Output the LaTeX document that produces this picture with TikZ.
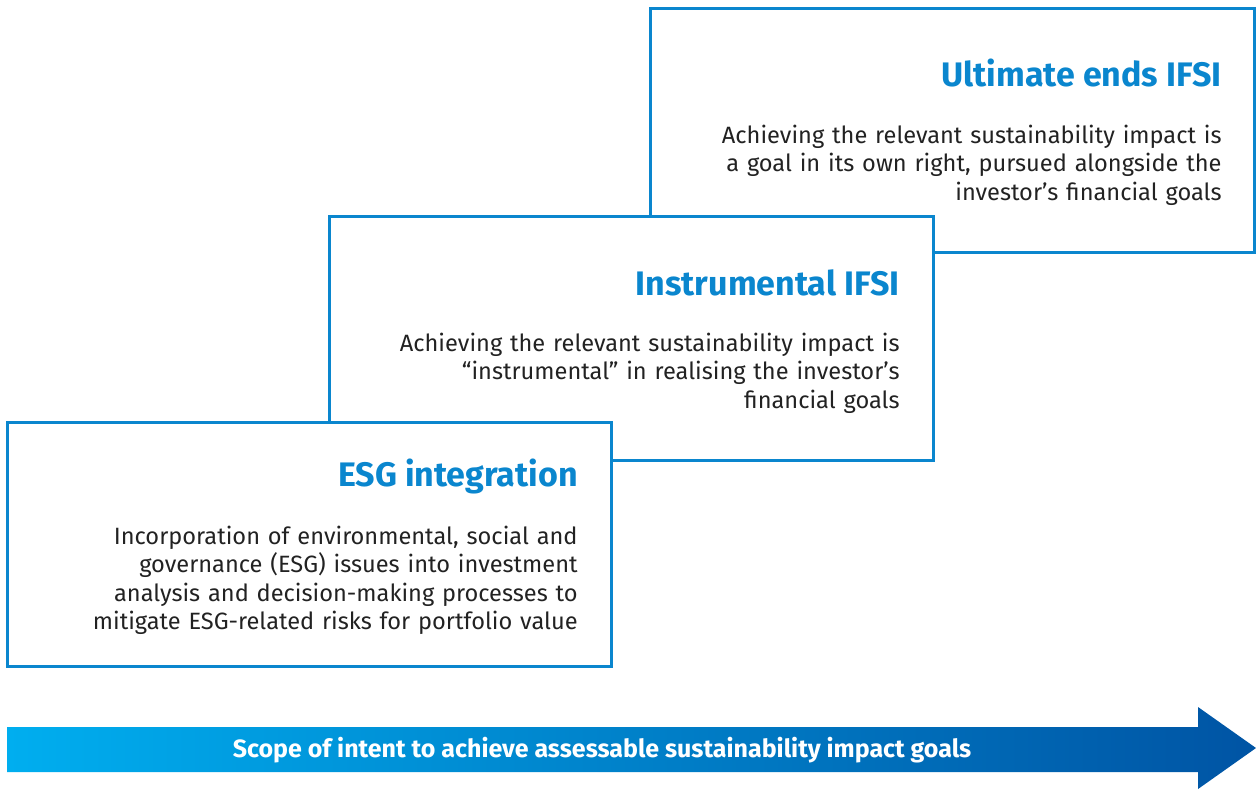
\documentclass[tikz,border=0pt]{standalone}
\usepackage{fontspec}
\setmainfont{Fira Sans}
\usetikzlibrary{positioning}
\definecolor{ifsiblue}{HTML}{0A86CE}
\definecolor{arrowlight}{HTML}{00AEEF}
\definecolor{arrowdark}{HTML}{0054A4}
\definecolor{bodytext}{HTML}{222222}
\tikzset{
    box/.style={draw=ifsiblue,line width=1.5pt,fill=white,rectangle,inner sep=0pt,outer sep=0pt,minimum width=302pt,minimum height=122pt},
    heading/.style={anchor=base east,inner sep=0pt,text=ifsiblue,font=\fontsize{17}{20}\selectfont\bfseries},
    blurb/.style={anchor=base east,inner sep=0pt,text=bodytext,align=right,text width=300pt,font=\fontsize{11.8}{14.25}\selectfont},
    scope label/.style={inner sep=0pt,anchor=base,text=white,font=\fontsize{12.5}{14}\selectfont\bfseries}
}
\begin{document}
\begin{tikzpicture}[x=0.5pt,y=-0.5pt]
    \useasboundingbox (0,0) rectangle (1256,789);

    % top step
    \node[box] (ult) at (952.5,130) {};
    \node[heading] (ulttitle) at (1222,86) {Ultimate ends IFSI};
    \node[blurb] (ulttext) at (1222,143) {Achieving the relevant sustainability impact is\\a goal in its own right, pursued alongside the\\investor's financial goals};

    % middle step
    \node[box] (ins) at (631,338) {};
    \node[heading] (institle) at (900,295) {Instrumental IFSI};
    \node[blurb] (instext) at (900,351) {Achieving the relevant sustainability impact is\\``instrumental'' in realising the investor's\\financial goals};

    % bottom step
    \node[box] (esg) at (309,544) {};
    \node[heading] (esgtitle) at (578,486) {ESG integration};
    \node[blurb] (esgtext) at (578,544) {Incorporation of environmental, social and\\governance (ESG) issues into investment\\analysis and decision-making processes to\\mitigate ESG-related risks for portfolio value};

    % scope arrow
    \shade[left color=arrowlight,right color=arrowdark]
        (7,727) -- (1198,727) -- (1198,707) -- (1256,748) -- (1198,789) -- (1198,772) -- (7,772) -- cycle;
    \node[scope label] (scope) at (602,757) {Scope of intent to achieve assessable sustainability impact goals};
\end{tikzpicture}
\end{document}
